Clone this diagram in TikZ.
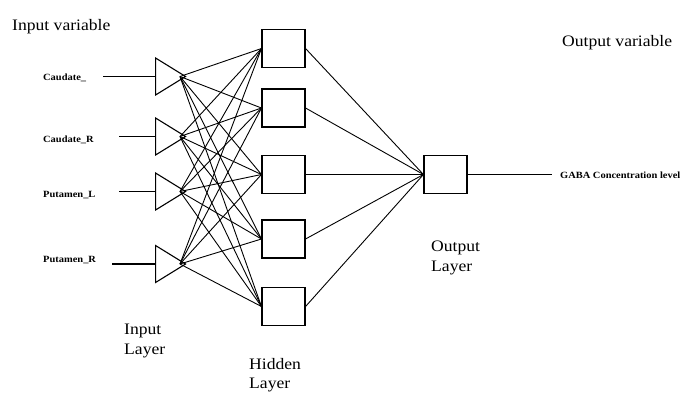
\documentclass[tikz,border=0pt]{standalone}
\usepackage{fontspec}
\setmainfont{Liberation Serif}[FakeStretch=1.1]
\usetikzlibrary{shapes.geometric}
\begin{document}
\begin{tikzpicture}[x=1pt,y=-1pt,
  hid/.style={draw, line width=1.1pt, minimum width=43pt, minimum height=38pt, inner sep=0pt},
  tri/.style={draw, line width=1.1pt, isosceles triangle, isosceles triangle stretches,
              minimum width=37pt, minimum height=30pt, inner sep=0pt, anchor=west},
  lnk/.style={line width=0.9pt},
  big/.style={font=\fontsize{16}{19.5}\selectfont, inner sep=0pt, align=left},
  small/.style={font=\bfseries\fontsize{9.5}{11}\selectfont, inner sep=0pt}]
\useasboundingbox[fill=white] (0,0) rectangle (681,397);

% input triangles
\node[tri] (t1) at (155,76.5) {};
\node[tri] (t2) at (155,136.5) {};
\node[tri] (t3) at (155,191.5) {};
\node[tri] (t4) at (155,264) {};
\foreach \i in {1,...,4} \coordinate (o\i) at ([xshift=-7pt]t\i.apex);

% hidden boxes
\node[hid] (h1) at (283.5,48.5) {};
\node[hid] (h2) at (283.5,108) {};
\node[hid] (h3) at (283.5,174.5) {};
\node[hid] (h4) at (283.5,239) {};
\node[hid] (h5) at (283.5,306.5) {};

% output box
\node[hid] (out) at (445.5,174.5) {};

% links
\foreach \i in {1,...,4}
  \foreach \j in {1,...,5}
    \draw[lnk] (o\i) -- (h\j.west);
\foreach \j in {1,...,5}
  \draw[lnk] (h\j.east) -- (out.west);

% input lines
\coordinate (a1) at (103,76.5);
\coordinate (a2) at (119,136.5);
\coordinate (a3) at (119,191.5);
\coordinate (a4) at (112,264);
\foreach \i in {1,...,4} \draw[line width=1.1pt] (a\i) -- (t\i.west);

% output line
\coordinate (g) at (552,174.5);
\draw[line width=1.1pt] (out.east) -- (g);

% labels
\node[small, anchor=base west] (l1) at (43,80) {Caudate\_};
\node[small, anchor=base west] (l2) at (43,142) {Caudate\_R};
\node[small, anchor=base west] (l3) at (43,197) {Putamen\_L};
\node[small, anchor=base west] (l4) at (43,262) {Putamen\_R};
\node[small, anchor=base west] (lg) at (560,178) {GABA Concentration level};

\node[big, anchor=base west] (iv) at (12,30) {Input variable};
\node[big, anchor=base west] (ov) at (562,46) {Output variable};
\node[big, anchor=north west] (il) at (124,324) {Input\\Layer};
\node[big, anchor=north west] (hl) at (249,358) {Hidden\\Layer};
\node[big, anchor=north west] (ol) at (431,241) {Output\\Layer};
\end{tikzpicture}
\end{document}
